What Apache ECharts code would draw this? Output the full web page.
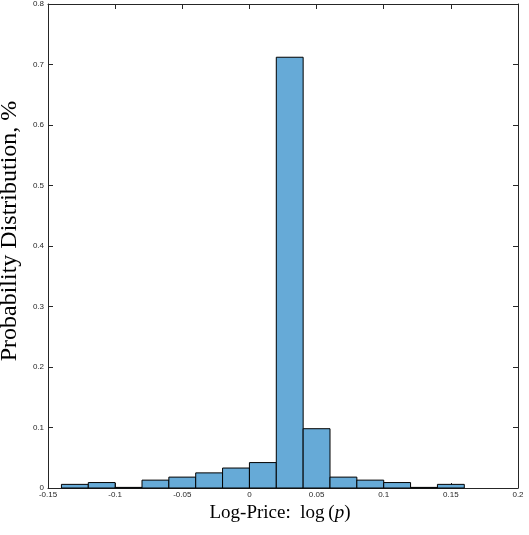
<!DOCTYPE html>
<html>
<head>
<meta charset="utf-8">
<script src="https://cdn.jsdelivr.net/npm/echarts@6/dist/echarts.min.js"></script>
<style>html,body{margin:0;padding:0;background:#fff}#c{width:529px;height:535px}</style>
</head>
<body>
<div id="c"></div>
<script>
// Histogram bins (left edges) and bin width
var binStarts = [-0.14, -0.12, -0.10, -0.08, -0.06, -0.04, -0.02, 0.00, 0.02, 0.04, 0.06, 0.08, 0.10, 0.12, 0.14];
var binWidth = 0.02;
// Probability values per bin
var probValues = [0.006, 0.009, 0.001, 0.013, 0.018, 0.025, 0.033, 0.042, 0.712, 0.098, 0.018, 0.013, 0.009, 0.001, 0.006];
// Tick labels
var xTicks = [-0.15, -0.1, -0.05, 0, 0.05, 0.1, 0.15, 0.2];
var yTicks = [0, 0.1, 0.2, 0.3, 0.4, 0.5, 0.6, 0.7, 0.8];

var data = binStarts.map(function (s, i) { return [s, s + binWidth, probValues[i]]; });

function fmt(v) { return String(Math.round(v * 100) / 100); }

var axisColor = '#262626';
var tickLabel = { fontFamily: 'Liberation Sans, Arial, sans-serif', fontSize: 8, color: '#262626' };

var chart = echarts.init(document.getElementById('c'), null, { renderer: 'canvas' });
chart.setOption({
  animation: false,
  backgroundColor: '#fff',
  grid: { left: 48, right: 11, top: 4, bottom: 47, containLabel: false, outerBoundsMode: 'none' },
  xAxis: [{
    type: 'value', min: -0.15, max: 0.2, interval: 0.05, position: 'bottom',
    axisLine: { show: true, onZero: false, lineStyle: { color: axisColor, width: 1 } },
    axisTick: { show: true, inside: true, length: 5, lineStyle: { color: axisColor } },
    axisLabel: Object.assign({ margin: 3, formatter: fmt }, tickLabel),
    splitLine: { show: false },
    name: '{n|Log-Price:  log\u2009(}{i|p}{n|)}',
    nameLocation: 'middle', nameGap: 13,
    nameTextStyle: {
      padding: [0, 6, 0, 0],
      rich: {
        n: { fontFamily: 'Liberation Serif, DejaVu Serif, serif', fontSize: 19, color: '#000' },
        i: { fontFamily: 'Liberation Serif, DejaVu Serif, serif', fontStyle: 'italic', fontSize: 19, color: '#000' }
      }
    }
  }, {
    type: 'value', min: -0.15, max: 0.2, interval: 0.05, position: 'top',
    axisLine: { show: true, onZero: false, lineStyle: { color: axisColor, width: 1 } },
    axisTick: { show: true, inside: true, length: 5, lineStyle: { color: axisColor } },
    axisLabel: { show: false }, splitLine: { show: false }
  }],
  yAxis: [{
    type: 'value', min: 0, max: 0.8, interval: 0.1, position: 'left',
    axisLine: { show: true, onZero: false, lineStyle: { color: axisColor, width: 1 } },
    axisTick: { show: true, inside: true, length: 5, lineStyle: { color: axisColor } },
    axisLabel: Object.assign({ margin: 4, formatter: fmt }, tickLabel),
    splitLine: { show: false },
    name: 'Probability Distribution, %', nameLocation: 'middle', nameGap: 20,
    nameTextStyle: { fontFamily: 'Liberation Serif, DejaVu Serif, serif', fontSize: 24, color: '#000', padding: [0, 0, 0, 30] }
  }, {
    type: 'value', min: 0, max: 0.8, interval: 0.1, position: 'right',
    axisLine: { show: true, onZero: false, lineStyle: { color: axisColor, width: 1 } },
    axisTick: { show: true, inside: true, length: 5, lineStyle: { color: axisColor } },
    axisLabel: { show: false }, splitLine: { show: false }
  }],
  series: [{
    type: 'custom',
    xAxisIndex: 0, yAxisIndex: 0,
    data: data,
    renderItem: function (params, api) {
      var p0 = api.coord([api.value(0), 0]);
      var p1 = api.coord([api.value(1), api.value(2)]);
      return {
        type: 'rect',
        shape: { x: p0[0], y: p1[1], width: p1[0] - p0[0], height: p0[1] - p1[1] },
        style: { fill: '#66AAD7', stroke: '#000', lineWidth: 1 }
      };
    }
  }]
});
</script>
</body>
</html>
